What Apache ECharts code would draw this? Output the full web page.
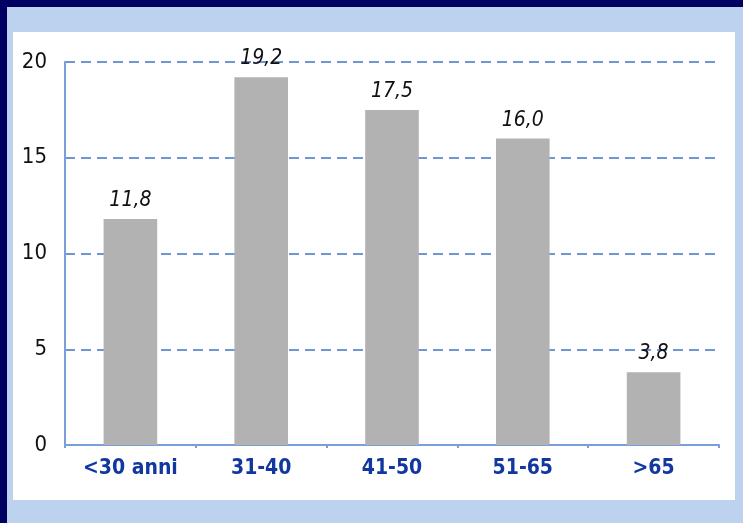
<!DOCTYPE html>
<html>
<head>
<meta charset="utf-8">
<script src="https://cdn.jsdelivr.net/npm/echarts@6/dist/echarts.min.js"></script>
<style>
  html, body { margin: 0; padding: 0; }
  body { width: 743px; height: 523px; background: #000062; position: relative; overflow: hidden; }
  .outer { position: absolute; left: 7px; top: 7px; right: 0; bottom: 0; background: #bcd2ee; }
  .panel { position: absolute; left: 13px; top: 32px; width: 722px; height: 468px; background: #fff; }
  #chart { position: absolute; left: 0; top: 0; width: 743px; height: 523px; }
</style>
</head>
<body>
<div class="outer"></div>
<div class="panel"></div>
<div id="chart"></div>
<script>
  // dati
  var categories = ['<30 anni', '31-40', '41-50', '51-65', '>65']
  var values = [11.8, 19.2, 17.5, 16.0, 3.8]
  var yTicks = [0, 5, 10, 15, 20]

  var narrow = '"Liberation Sans Narrow", "DejaVu Sans Condensed", "Arial Narrow", sans-serif'
  var myChart = echarts.init(document.getElementById('chart'))

  var option = {
    animation: false,
    grid: {
      left: 65,
      top: 62,
      right: 24,
      bottom: 78,
      containLabel: false
    },
    xAxis: {
      type: 'category',
      data: categories,
      axisLine: {
        lineStyle: { color: '#7a9ed8', width: 2 }
      },
      axisTick: {
        show: true,
        length: 3,
        lineStyle: { color: '#7a9ed8', width: 2 }
      },
      axisLabel: {
        interval: 0,
        margin: 13,
        color: '#1238a0',
        fontFamily: narrow,
        fontWeight: 'bold',
        fontSize: 21
      }
    },
    yAxis: {
      type: 'value',
      min: yTicks[0],
      max: yTicks[yTicks.length - 1],
      interval: 5,
      axisLine: {
        show: true,
        lineStyle: { color: '#7a9ed8', width: 2 }
      },
      axisTick: { show: false },
      axisLabel: {
        margin: 18,
        color: '#111',
        fontFamily: narrow,
        fontSize: 22
      },
      splitLine: {
        show: true,
        lineStyle: {
          color: '#6f96d4',
          width: 2,
          type: [10, 6]
        }
      }
    },
    series: [
      {
        type: 'bar',
        data: values,
        barCategoryGap: '59%',
        itemStyle: { color: '#b2b2b2' },
        label: {
          show: true,
          position: 'top',
          distance: 8,
          color: '#111',
          fontFamily: narrow,
          fontStyle: 'italic',
          fontSize: 21,
          formatter: function (p) {
            return p.value.toFixed(1).replace('.', ',')
          }
        }
      }
    ]
  }
  myChart.setOption(option)
</script>
</body>
</html>
